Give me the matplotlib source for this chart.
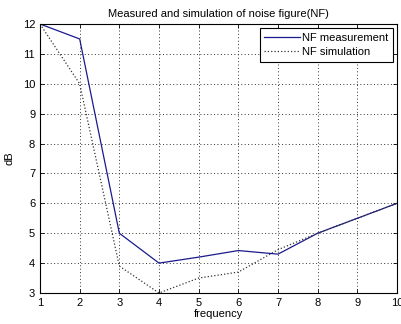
import matplotlib
matplotlib.use("Agg")
import matplotlib.pyplot as plt

freq = [1, 2, 3, 4, 5, 6, 7, 8, 9, 10]
nf_measurement = [12, 11.5, 5, 4, 4.2, 4.42, 4.3, 5, 5.5, 6]
nf_simulation = [12, 10, 3.9, 3, 3.5, 3.7, 4.45, 5, 5.5, 6]
xticks = list(range(1, 11))
yticks = list(range(3, 13))

plt.rcParams['font.family'] = ['Liberation Sans', 'DejaVu Sans']
fig = plt.figure(figsize=(4.02, 3.24), dpi=100)
ax = fig.add_axes([40/402, 1 - 293/324, 357/402, 269/324])
ax.plot(freq, nf_measurement, '-', color='#1a1a8c', lw=0.9, label='NF measurement')
ax.plot(freq, nf_simulation, ':', color='#333333', lw=0.9, label='NF simulation')
ax.set_xlim(1, 10)
ax.set_ylim(3, 12)
ax.set_xticks(xticks)
ax.set_yticks(yticks)
ax.tick_params(labelsize=8, direction='in', length=3, width=0.6, top=True, right=True)
ax.grid(True, linestyle=(0, (1, 2.5)), color='#333333', lw=0.7)
for s in ax.spines.values():
    s.set_linewidth(0.8)
ax.set_xlabel('frequency', fontsize=8, labelpad=1)
ax.set_ylabel('dB', fontsize=8, labelpad=6)
ax.set_title('Measured and simulation of noise figure(NF)', fontsize=8, pad=5)
leg = ax.legend(loc='upper right', fontsize=8, fancybox=False, framealpha=1,
                edgecolor='black', borderaxespad=0.4, handlelength=3.2, handletextpad=0.2,
                borderpad=0.4, labelspacing=0.4)
leg.get_frame().set_linewidth(0.8)
fig.savefig('out.png', dpi=100)
